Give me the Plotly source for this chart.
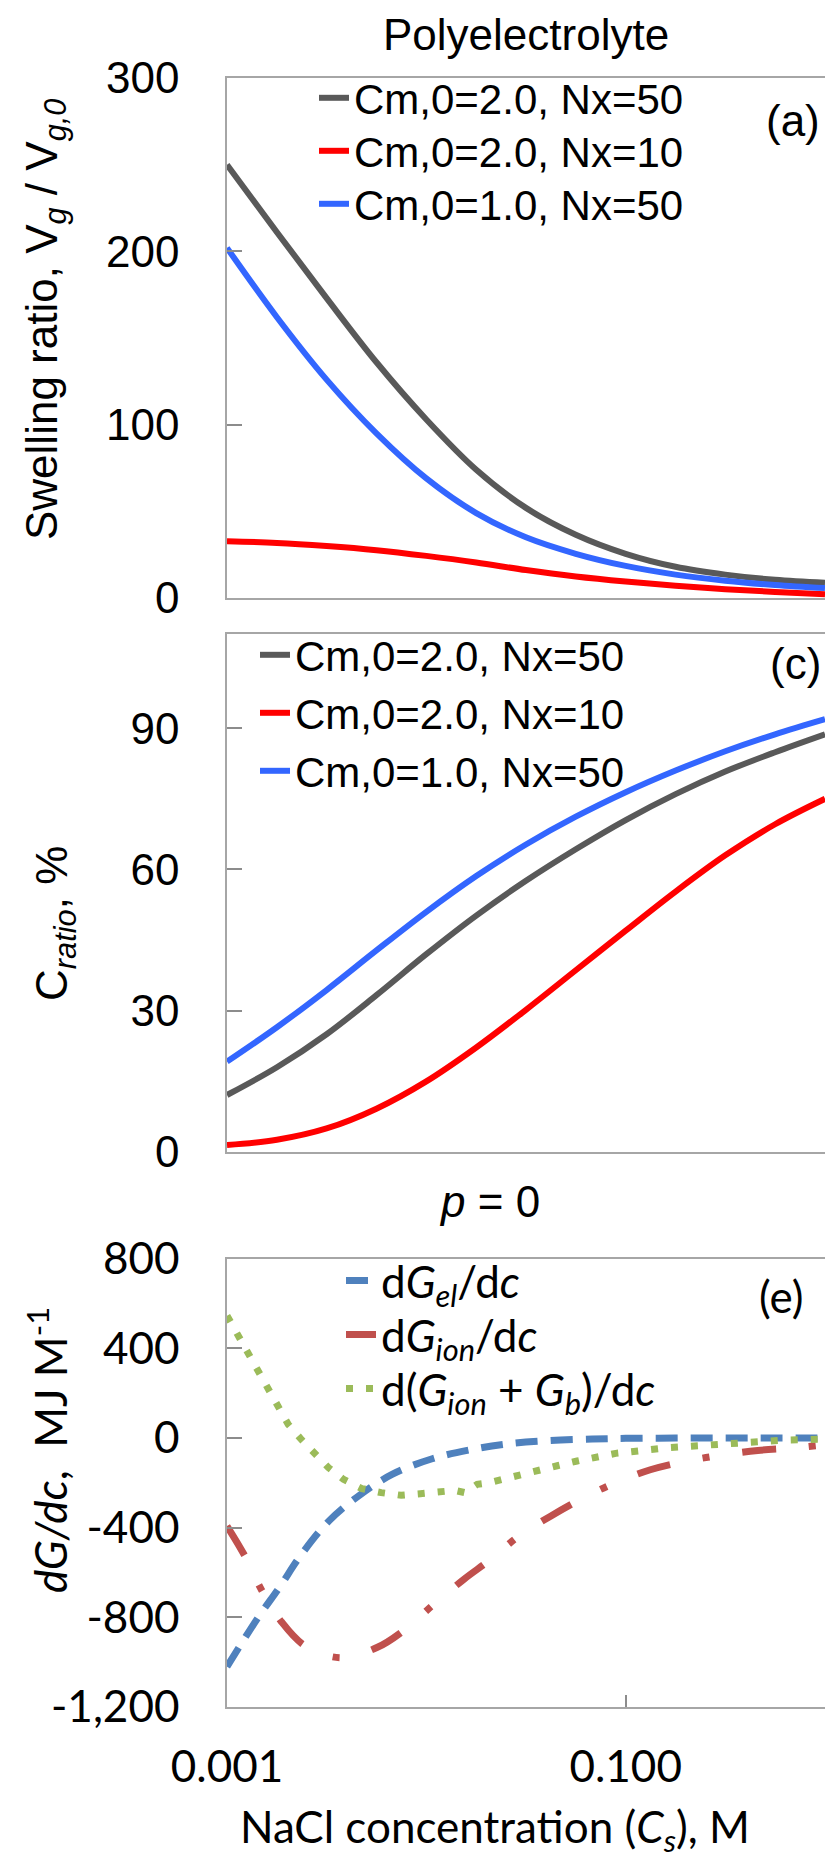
import plotly.graph_objects as go

# ---------------- data ----------------
conc = [0.001, 0.00178, 0.00316, 0.00562, 0.01, 0.0178, 0.0316, 0.0562,
        0.1, 0.178, 0.316, 0.562, 1.0]

series_names = ["Cm,0=2.0, Nx=50", "Cm,0=2.0, Nx=10", "Cm,0=1.0, Nx=50"]

# (a) swelling ratio
swell_cm2_nx50 = [250, 211, 173, 136, 103, 74, 52, 36.5, 25.5, 18, 13.5, 10.5, 8.8]
swell_cm2_nx10 = [32.7, 31.8, 30, 27.6, 24.3, 20.5, 16.1, 12.4, 9.5, 7.1, 5.1, 3.5, 2.2]
swell_cm1_nx50 = [202, 162, 126, 95, 69, 49, 35, 25.5, 18.5, 13.5, 10, 7.5, 5.7]

# (c) C_ratio, %
cratio_cm2_nx50 = [12.1, 18.0, 25.0, 33.3, 42.0, 50.2, 57.6, 64.3, 70.5, 76.0, 80.8, 84.9, 88.7]
cratio_cm2_nx10 = [1.5, 2.6, 5.0, 9.2, 15.0, 22.2, 30.2, 38.6, 47.0, 55.3, 63.0, 69.6, 75.0]
cratio_cm1_nx50 = [19.2, 26.5, 34.4, 42.8, 51.0, 58.6, 65.3, 71.2, 76.4, 81.0, 85.1, 88.7, 91.9]

# (e) dG/dc
el_conc = [0.001, 0.00143, 0.00185, 0.00233, 0.00324, 0.00457, 0.00673, 0.0107,
           0.017, 0.0259, 0.0412, 0.0681, 0.1, 0.178, 0.316, 0.562, 1.0]
dG_el = [-1020, -802, -661, -527, -371, -259, -163, -93, -51, -26, -12, -5, -2, -1, 0, 0, 0]

ion_conc = [0.001, 0.00123, 0.00149, 0.00188, 0.00247, 0.0037, 0.00565, 0.00783,
            0.0109, 0.0154, 0.021, 0.0291, 0.042, 0.0594, 0.0873, 0.133, 0.19,
            0.296, 0.46, 0.686, 1.0]
dG_ion = [-393, -527, -678, -821, -928, -980, -935, -854, -742, -631, -542, -438,
          -349, -274, -203, -142, -108, -78, -56, -45, -30]

ionb_conc = [0.001, 0.00116, 0.00129, 0.00144, 0.00161, 0.0018, 0.00203, 0.00236,
             0.00275, 0.00323, 0.00384, 0.00475, 0.00594, 0.00748, 0.00933, 0.0115,
             0.0139, 0.0156, 0.018, 0.0206, 0.024, 0.0296, 0.0366, 0.0459, 0.0571,
             0.0721, 0.0891, 0.166, 0.253, 0.394, 0.627, 1.0]
dG_ionb = [545, 442, 365, 288, 213, 135, 60, -7, -70, -133, -185, -226, -244, -256,
           -249, -242, -234, -244, -207, -200, -185, -158, -140, -123, -103, -84, -69,
           -43, -31, -19, -10, -5]

ticks_a = [0, 100, 200, 300]
ticks_c = [0, 30, 60, 90]
ticks_e = [-1200, -800, -400, 0, 400, 800]
ticktext_e = ["-1,200", "-800", "-400", "0", "400", "800"]
xticks_e = [0.001, 0.1]
xticktext_e = ["0.001", "0.100"]

# ---------------- layout helpers ----------------
W, H = 825, 1865
L, R, T, B = 227, 0, 78, 158
PW, PH = W - L - R, H - T - B


def px(x):
    return (x - L) / PW


def py(y):
    return (H - B - y) / PH


ARIAL = "Liberation Sans, Arial, sans-serif"
CALIBRI = "Lato, Carlito, Calibri, sans-serif"
FRAME = "#a6a6a6"

c_grey, c_red, c_blue = "#595959", "#ff0000", "#3366ff"

fig = go.Figure()
legend_layout = {}


def add_legend(idx, text_x, row_y, family, size):
    key = "legend" if idx == 1 else f"legend{idx}"
    legend_layout[key] = dict(x=px(text_x - 41), y=py(row_y), xanchor="left", yanchor="middle",
                              bgcolor="rgba(0,0,0,0)",
                              font=dict(family=family, size=size, color="black"))
    return key


rows_a = [98, 151, 204]
rows_c = [655, 713, 771]
rows_e = [1281, 1335, 1389]

k = 1
for ys, col, nm, ry in zip([swell_cm2_nx50, swell_cm2_nx10, swell_cm1_nx50],
                           [c_grey, c_red, c_blue], series_names, rows_a):
    lg = add_legend(k, 355, ry, ARIAL, 42)
    k += 1
    fig.add_trace(go.Scatter(x=conc, y=ys, mode="lines", name=nm,
                             line=dict(color=col, width=6, shape="spline"),
                             xaxis="x", yaxis="y", legend=lg))

for ys, col, nm, ry in zip([cratio_cm2_nx50, cratio_cm2_nx10, cratio_cm1_nx50],
                           [c_grey, c_red, c_blue], series_names, rows_c):
    lg = add_legend(k, 296, ry, ARIAL, 42)
    k += 1
    fig.add_trace(go.Scatter(x=conc, y=ys, mode="lines", name=nm,
                             line=dict(color=col, width=6, shape="spline"),
                             xaxis="x2", yaxis="y2", legend=lg))

e_traces = [
    (el_conc, dG_el, "d<i>G</i><sub><i>el</i></sub>/d<i>c</i>",
     dict(color="#4f81bd", width=7, dash="22px,13px", shape="spline")),
    (ion_conc, dG_ion, "d<i>G</i><sub><i>ion</i></sub>/d<i>c</i>",
     dict(color="#c0504d", width=7, dash="34px,33px,7px,33px", shape="spline")),
    (ionb_conc, dG_ionb, "d(<i>G</i><sub><i>ion</i></sub> + <i>G</i><sub><i>b</i></sub>)/d<i>c</i>",
     dict(color="#9bbb59", width=7, dash="7px,13px")),
]
for (xs, ys, nm, ln), ry in zip(e_traces, rows_e):
    lg = add_legend(k, 382, ry, CALIBRI, 44)
    k += 1
    fig.add_trace(go.Scatter(x=xs, y=ys, mode="lines", name=nm, line=ln,
                             xaxis="x3", yaxis="y3", legend=lg))

xcommon = dict(type="log", range=[-3, 0], showgrid=False, zeroline=False,
               showline=True, linecolor=FRAME, linewidth=1.5, mirror=True)
ycommon = dict(showgrid=False, zeroline=False, showline=True, linecolor=FRAME,
               linewidth=1.5, mirror=False, ticks="inside", ticklen=15,
               tickcolor="#8c8c8c", tickwidth=1.5, ticklabelstandoff=37)

dom_a = [py(598), py(78)]
dom_c = [py(1152), py(634)]
dom_e = [py(1707), py(1258.5)]

fig.update_layout(
    width=W, height=H, autosize=False,
    margin=dict(l=L, r=R, t=T, b=B, pad=0),
    paper_bgcolor="white", plot_bgcolor="white",
    showlegend=True,
    xaxis=dict(**xcommon, domain=[0, 1], anchor="y", showticklabels=False, ticks=""),
    yaxis=dict(**ycommon, domain=dom_a, anchor="x", range=[0, 300], tickvals=ticks_a,
               tickfont=dict(family=ARIAL, size=44, color="black")),
    xaxis2=dict(**xcommon, domain=[0, 1], anchor="y2", showticklabels=False, ticks=""),
    yaxis2=dict(**ycommon, domain=dom_c, anchor="x2", range=[0, 110], tickvals=ticks_c,
                tickfont=dict(family=ARIAL, size=44, color="black")),
    xaxis3=dict(**xcommon, domain=[0, 1], anchor="y3", tickvals=xticks_e, ticktext=xticktext_e,
                ticks="inside", ticklen=12, tickcolor="#8c8c8c", tickwidth=1.5,
                ticklabelstandoff=20, tickfont=dict(family=CALIBRI, size=44, color="black")),
    yaxis3=dict(**ycommon, domain=dom_e, anchor="x3", range=[-1200, 800], tickvals=ticks_e,
                ticktext=ticktext_e, tickfont=dict(family=CALIBRI, size=44, color="black")),
    **legend_layout,
)

ann = [
    dict(text="Polyelectrolyte", x=px(526), y=py(34), font=dict(family=ARIAL, size=44)),
    dict(text="(a)", x=px(793), y=py(120), font=dict(family=ARIAL, size=44)),
    dict(text="(c)", x=px(795), y=py(663), font=dict(family=ARIAL, size=44)),
    dict(text="(e)", x=px(781), y=py(1296), font=dict(family=CALIBRI, size=44)),
    dict(text="<i>p</i> = 0", x=px(489), y=py(1201), font=dict(family=ARIAL, size=44)),
    dict(text="Swelling ratio, V<sub><i>g</i></sub> / V<sub><i>g,0</i></sub>", x=px(45), y=py(320),
         textangle=-90, font=dict(family=ARIAL, size=44)),
    dict(text="C<sub><i>ratio</i></sub>, %", x=px(55), y=py(924),
         textangle=-90, font=dict(family=ARIAL, size=44)),
    dict(text="<i>dG/dc</i>,  MJ M<sup>-1</sup>", x=px(47), y=py(1450),
         textangle=-90, font=dict(family=CALIBRI, size=44)),
    dict(text="NaCl concentration (<i>C</i><sub><i>s</i></sub>), M", x=px(495), y=py(1830),
         font=dict(family=CALIBRI, size=44)),
]
for a in ann:
    a["font"]["color"] = "black"
    fig.add_annotation(xref="paper", yref="paper", showarrow=False,
                       xanchor="center", yanchor="middle", **a)

fig.write_html("out.html",
               config={"displayModeBar": False},
               post_script="document.body.style.margin='0px';"
                           "document.body.style.overflow='hidden';")
